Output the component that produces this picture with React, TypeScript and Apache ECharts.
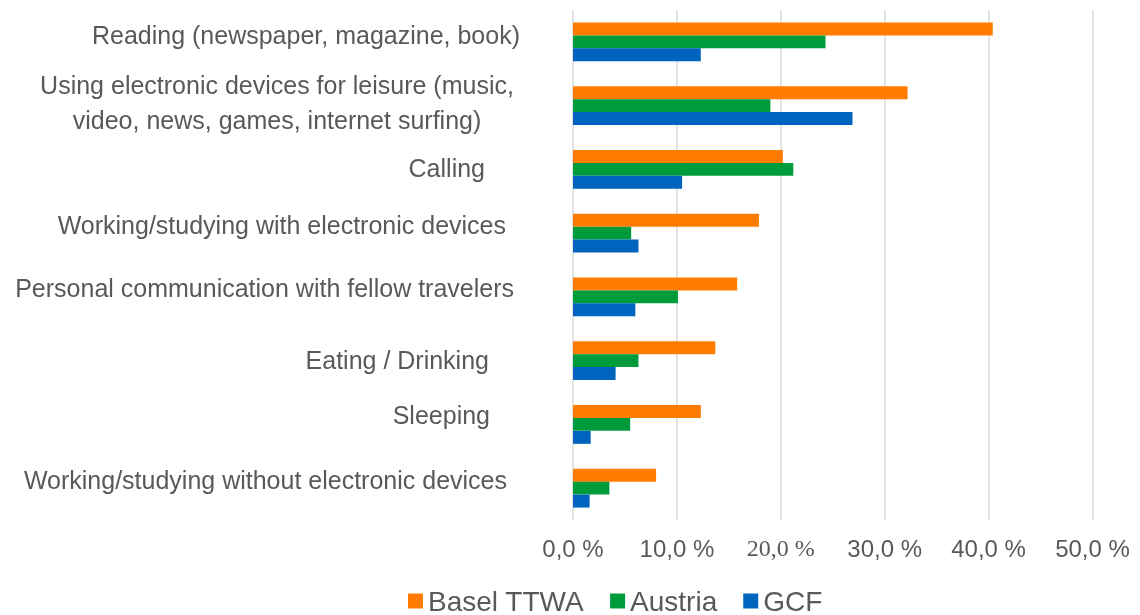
import React, { useEffect, useRef } from "react";
import * as echarts from "echarts";

const categories = [
  "Reading (newspaper, magazine, book)",
  "Using electronic devices for leisure (music,\nvideo, news, games, internet surfing)",
  "Calling",
  "Working/studying with electronic devices",
  "Personal communication with fellow travelers",
  "Eating / Drinking",
  "Sleeping",
  "Working/studying without electronic devices",
];
const baselTTWA = [40.4, 32.2, 20.2, 17.9, 15.8, 13.7, 12.3, 8.0];
const austria = [24.3, 19.0, 21.2, 5.6, 10.1, 6.3, 5.5, 3.5];
const gcf = [12.3, 26.9, 10.5, 6.3, 6.0, 4.1, 1.7, 1.6];
const seriesNames = ["Basel TTWA", "Austria", "GCF"];
const colors = ["#FF7C00", "#009B3A", "#0063BE"];

// label layout tweaks (not data): right-edge inset and upward shift per category
const labelInset = [0, 0, 35, 14, 6, 31, 30, 13];
const labelRaise = [7, 3, 1, 8, 9, 1, 9, 8];

const FONT = "'Liberation Sans', Arial, sans-serif";
const TEXT = "#595959";

export default function App() {
  const ref = useRef<HTMLDivElement>(null);
  useEffect(() => {
    if (!ref.current) return;
    const chart = echarts.init(ref.current, undefined, { renderer: "svg" });
    const data = [baselTTWA, austria, gcf];
    const rich: Record<string, any> = {
      t: { fontSize: 25, color: TEXT, fontFamily: FONT, lineHeight: 30 },
      c: { fontSize: 25, color: TEXT, fontFamily: FONT, lineHeight: 35, width: 486, align: "center" },
    };
    categories.forEach((_, i) => {
      rich["g" + i] = { width: Math.max(labelInset[i], 0.01), lineHeight: 30, fontSize: 1 };
      rich["s" + i] = { height: labelRaise[i] * 2, lineHeight: labelRaise[i] * 2, fontSize: 1 };
    });
    chart.setOption({
      animation: false,
      textStyle: { fontFamily: FONT },
      grid: { left: 573, right: 47.5, top: 10, height: 510, containLabel: false },
      legend: {
        top: 582,
        left: 403,
        itemWidth: 15,
        itemHeight: 15,
        itemGap: 26,
        icon: "rect",
        textStyle: { fontSize: 28, color: TEXT, fontFamily: FONT, lineHeight: 28 },
        data: seriesNames,
      },
      xAxis: {
        type: "value",
        min: 0,
        max: 50,
        interval: 10,
        axisLine: { show: false },
        axisTick: { show: false },
        splitLine: { lineStyle: { color: "#D9D9D9", width: 1.5 } },
        axisLabel: {
          margin: 16,
          fontSize: 24,
          color: TEXT,
          formatter: (v: number) => {
            const s = v.toFixed(1).replace(".", ",") + " %";
            return v === 20 ? `{s|${s}}` : `{n|${s}}`;
          },
          rich: {
            n: { fontSize: 24, color: TEXT, fontFamily: FONT },
            s: { fontSize: 24, color: TEXT, fontFamily: "'Liberation Serif', 'DejaVu Serif', serif" },
          },
        },
      },
      yAxis: {
        type: "category",
        inverse: true,
        data: categories,
        axisLine: { show: false },
        axisTick: { show: false },
        axisLabel: {
          margin: 53,
          align: "right",
          formatter: (value: string, idx: number) => {
            const lines = value.split("\n");
            let body: string;
            if (lines.length > 1) {
              body = lines.map((l) => `{c|${l}}`).join("\n");
            } else {
              body = `{t|${value}}{g${idx}| }`;
            }
            if (labelRaise[idx] > 0) body += `\n{s${idx}| }`;
            return body;
          },
          rich,
        },
      },
      series: seriesNames.map((name, i) => ({
        name,
        type: "bar",
        data: data[i],
        barGap: "0%",
        barCategoryGap: "39%",
        itemStyle: { color: colors[i] },
      })),
    });
    return () => chart.dispose();
  }, []);
  return (
    <div
      ref={ref}
      style={{ position: "fixed", left: 0, top: 0, width: 1140, height: 615 }}
    />
  );
}
